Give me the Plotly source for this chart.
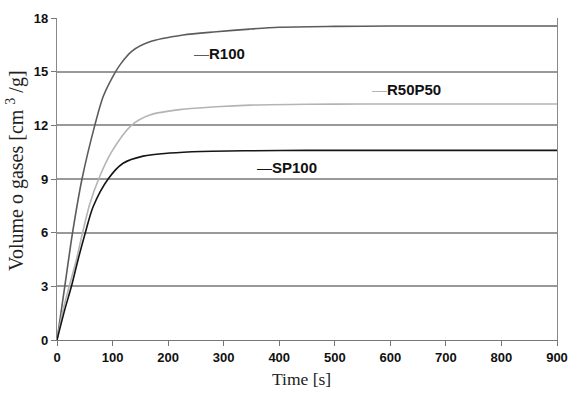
import plotly.graph_objects as go

t_r100 = [0, 14, 28, 45, 68, 83, 100, 115, 135, 167, 227, 287, 347, 400, 500, 600, 700, 800, 900]
v_r100 = [0, 3.0, 6.0, 9.0, 12.0, 13.6, 14.7, 15.45, 16.15, 16.67, 17.05, 17.23, 17.38, 17.48, 17.53, 17.55, 17.55, 17.55, 17.55]

t_r50 = [0, 11, 22, 35, 46, 59, 75, 98, 134, 167, 227, 287, 347, 450, 550, 700, 900]
v_r50 = [0, 1.7, 3.0, 4.5, 6.0, 7.6, 9.0, 10.5, 12.0, 12.58, 12.9, 13.04, 13.13, 13.18, 13.19, 13.19, 13.19]

t_sp = [0, 14, 26, 38, 51, 65, 92, 119, 155, 203, 260, 347, 450, 600, 750, 900]
v_sp = [0, 1.7, 3.0, 4.5, 6.0, 7.45, 9.0, 9.88, 10.28, 10.45, 10.54, 10.58, 10.6, 10.6, 10.6, 10.6]

x_ticks = list(range(0, 901, 100))
y_ticks = list(range(0, 19, 3))

series_names = ["R100", "R50P50", "SP100"]
series_colors = ["#5c5c5c", "#b4b4b4", "#151515"]
label_pos = [(243, 16.04), (563, 14.03), (356, 9.67)]

x_title = "Time [s]"
y_title = "Volume o gases [cm <sup>3</sup> /g]"

fig = go.Figure()
for (tx, vy), name, col in zip([(t_r100, v_r100), (t_r50, v_r50), (t_sp, v_sp)], series_names, series_colors):
    fig.add_trace(go.Scatter(x=tx, y=vy, mode="lines", name=name,
                             line=dict(color=col, width=1.6, shape="spline", smoothing=0.8)))

for (lx, ly), name, col in zip(label_pos, series_names, series_colors):
    fig.add_annotation(x=lx, y=ly, xref="x", yref="y", showarrow=False, xanchor="left",
                       text=f"<span style='color:{col}'>—</span><b>{name}</b>",
                       font=dict(family="Liberation Sans, Arial", size=15, color="#111"))

fig.add_annotation(x=-0.082, y=0.525, xref="paper", yref="paper", showarrow=False,
                   xanchor="center", yanchor="middle", textangle=-90, text=y_title,
                   font=dict(family="Liberation Serif, Times New Roman", size=20, color="#222"))
fig.add_annotation(x=0.488, y=-0.121, xref="paper", yref="paper", showarrow=False,
                   xanchor="center", yanchor="middle", text=x_title,
                   font=dict(family="Liberation Serif, Times New Roman", size=17.5, color="#222"))

fig.update_layout(
    width=569, height=397,
    margin=dict(l=57, r=12, t=18, b=57, autoexpand=False),
    paper_bgcolor="white", plot_bgcolor="white",
    showlegend=False,
    font=dict(family="Liberation Sans, Arial", size=13, color="#111"),
)
fig.update_xaxes(range=[0, 900], tickvals=x_ticks, ticktext=[f"<b>{v}</b>" for v in x_ticks],
                 automargin=False,
                 tickfont=dict(family="Liberation Sans, Arial", size=13, color="#111"),
                 showgrid=False, zeroline=False, showline=True, linecolor="#777", linewidth=1.2,
                 ticks="outside", ticklen=5, tickcolor="#777")
fig.update_yaxes(range=[0, 18], tickvals=y_ticks, ticktext=[f"<b>{v}</b>" for v in y_ticks],
                 automargin=False,
                 tickfont=dict(family="Liberation Sans, Arial", size=13, color="#111"),
                 showgrid=True, gridcolor="#999", gridwidth=1.5, zeroline=False,
                 showline=True, linecolor="#888", linewidth=1.2, mirror=True,
                 ticks="outside", ticklen=5, tickcolor="#777")

fig.write_html("out.html", config={"displayModeBar": False},
               post_script="document.body.style.margin='0';document.body.style.overflow='hidden';")
